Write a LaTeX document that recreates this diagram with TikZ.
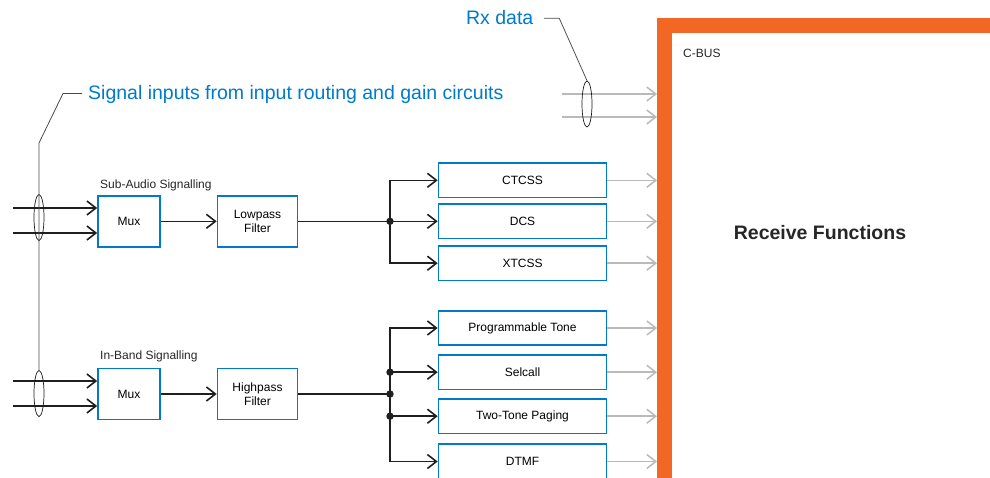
\documentclass[tikz,border=0pt]{standalone}
\usepackage{fontspec}
\setmainfont{Liberation Sans}
\usetikzlibrary{arrows.meta,shapes.geometric}
\definecolor{cmxblue}{RGB}{0,122,201}
\definecolor{cbusorange}{RGB}{242,103,36}
\tikzstyle{block}=[
        draw=cmxblue,
        line width=1.6pt,
        inner sep=0pt,
        align=center,
        font=\fontsize{12}{14.5}\selectfont
]
\tikzstyle{func}=[
        block,
        minimum width=168pt,
        minimum height=34.5pt
]
\tikzstyle{wire}=[
        draw=black!88,
        line width=1.6pt
]
\tikzstyle{sig}=[
        wire,
        -{Straight Barb[length=9pt,width=14pt]}
]
\tikzstyle{tobus}=[
        draw=black!27,
        line width=1.5pt,
        -{Straight Barb[length=9pt,width=14pt]}
]
\tikzstyle{cable}=[
        draw=black!90,
        ellipse,
        line width=0.7pt,
        minimum width=10pt,
        minimum height=46pt,
        inner sep=0pt
]
\tikzstyle{leader}=[
        draw=black!70,
        line width=0.8pt
]
\tikzstyle{callout}=[
        text=cmxblue,
        inner sep=0pt,
        font=\fontsize{19.5}{22}\selectfont
]
\tikzstyle{smalltext}=[
        inner sep=0pt,
        text=black!85,
        font=\fontsize{12}{14}\selectfont
]

\begin{document}
\begin{tikzpicture}[x=1pt,y=-1pt]
                        \useasboundingbox (0,0) rectangle (990,477);

                        % C-BUS frame
                        \fill[cbusorange] (657,18) rectangle (990,32.5);
                        \fill[cbusorange] (657,18) rectangle (672,485);
                        \coordinate (busedge) at (657,0);
                        \node[smalltext, anchor=base west] (cbus) at (683,57.3) {C-BUS};
                        \node[smalltext, anchor=base, font=\fontsize{19.5}{22}\selectfont\bfseries] (rxfn) at (820,239.3) {Receive Functions};

                        % sub-audio path
                        \node[smalltext, anchor=base west] (sublbl) at (100,188) {Sub-Audio Signalling};
                        \node[block, minimum width=62pt, minimum height=51pt] (mux1) at (129,221.3) {Mux};
                        \node[block, minimum width=80pt, minimum height=51pt] (lpf) at (257.5,221.3) {Lowpass\\Filter};
                        \node[func] (ctcss) at (522.5,180.3) {CTCSS};
                        \node[func] (dcs) at (522.5,221.3) {DCS};
                        \node[func] (xtcss) at (522.5,263.2) {XTCSS};

                        % in-band path
                        \node[smalltext, anchor=base west] (inblbl) at (100,359) {In-Band Signalling};
                        \node[block, minimum width=62pt, minimum height=51pt] (mux2) at (129,394) {Mux};
                        \node[block, minimum width=80pt, minimum height=51pt] (hpf) at (257.5,394) {Highpass\\Filter};
                        \node[func] (prog) at (522.5,328) {Programmable Tone};
                        \node[func] (selcall) at (522.5,372.2) {Selcall};
                        \node[func] (twotone) at (522.5,416.2) {Two-Tone Paging};
                        \node[func] (dtmf) at (522.5,461.5) {DTMF};

                        % inputs
                        \coordinate (in1) at (13,208);
                        \coordinate (in2) at (13,233);
                        \coordinate (in3) at (13,381);
                        \coordinate (in4) at (13,406);
                        \draw[sig] (in1) -- (in1 -| mux1.west);
                        \draw[sig] (in2) -- (in2 -| mux1.west);
                        \draw[sig] (in3) -- (in3 -| mux2.west);
                        \draw[sig] (in4) -- (in4 -| mux2.west);

                        \draw[sig] (mux1) -- (lpf);
                        \draw[sig] (mux2) -- (hpf);

                        % branches
                        \coordinate (j1) at (390,221.3);
                        \draw[wire] (lpf.east) -- (j1);
                        \foreach \b in {ctcss,dcs,xtcss} {
                            \draw[sig] (j1) |- (\b.west);
                        }
                        \fill[black!88] (j1) circle (3.7pt);

                        \coordinate (j2) at (390,394);
                        \draw[wire] (hpf.east) -- (j2);
                        \foreach \b in {prog,selcall,twotone,dtmf} {
                            \draw[sig] (j2) |- (\b.west);
                        }
                        \fill[black!88] (j2) circle (3.7pt);
                        \fill[black!88] (j2 |- selcall.west) circle (3.7pt);
                        \fill[black!88] (j2 |- twotone.west) circle (3.7pt);

                        % outputs to C-BUS
                        \foreach \b in {ctcss,dcs,xtcss,prog,selcall,twotone,dtmf} {
                            \draw[tobus] (\b.east) -- (\b.east -| busedge);
                        }
                        \coordinate (rx1) at (562,94);
                        \coordinate (rx2) at (562,117);
                        \draw[tobus] (rx1) -- (rx1 -| busedge);
                        \draw[tobus] (rx2) -- (rx2 -| busedge);

                        % cable bundles and callouts
                        \node[cable] (e1) at (39,217.5) {};
                        \node[cable] (e2) at (39,393.5) {};
                        \node[cable] (e3) at (587,104) {};

                        \node[callout, anchor=base west] (sigtxt) at (88,99.3) {Signal inputs from input routing and gain circuits};
                        \coordinate (k0) at (82,93.5);
                        \coordinate (k1) at (63,93.5);
                        \coordinate (k2) at (39,143);
                        \draw[leader] (k0) -- (k1) -- (k2) -- (e2.north);

                        \node[callout, anchor=base east] (rxtxt) at (533.5,24) {Rx data};
                        \coordinate (k3) at (544,18.3);
                        \coordinate (k4) at (559.3,18.3);
                        \draw[leader] (k3) -- (k4) -- (e3.north);
                    \end{tikzpicture}
\end{document}
